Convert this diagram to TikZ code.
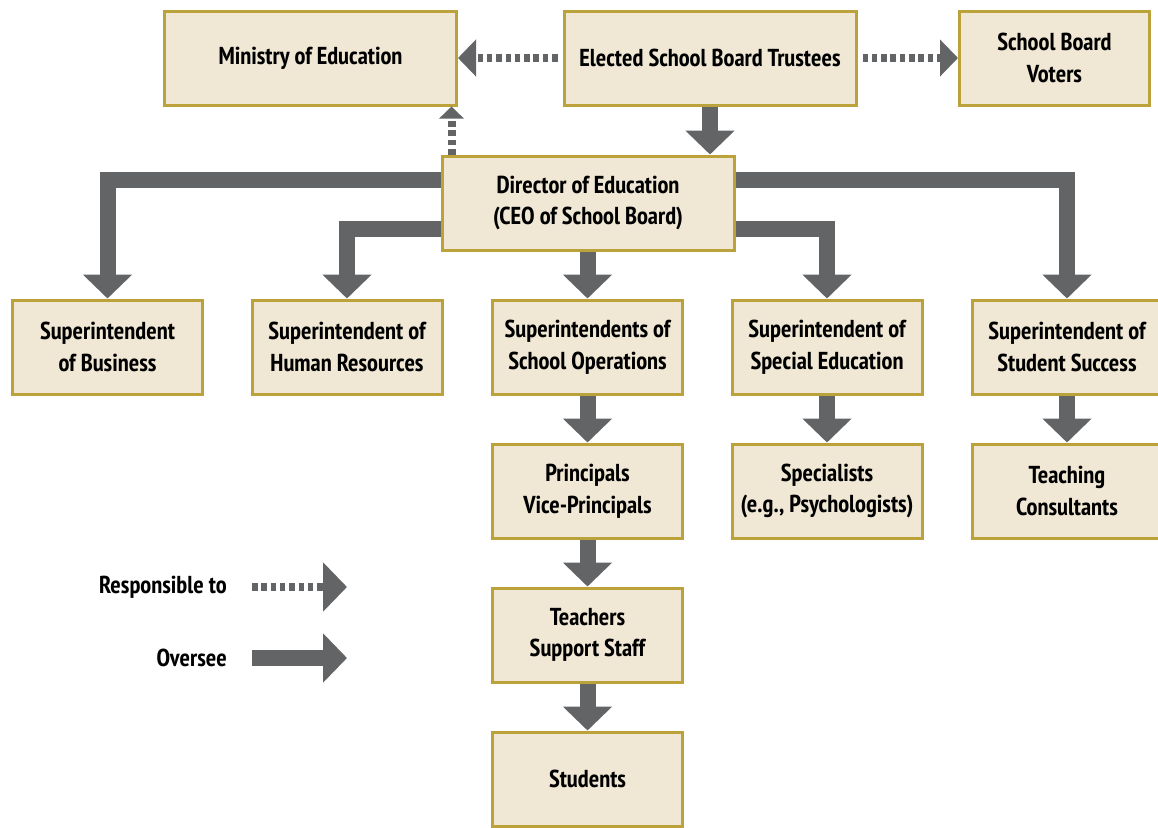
\documentclass[tikz,border=0pt]{standalone}
\usepackage{fontspec}
\setmainfont{PT Sans Narrow}
\usetikzlibrary{arrows.meta,calc}
\definecolor{boxfill}{HTML}{F0E8D5}
\definecolor{boxline}{HTML}{BCA23A}
\definecolor{arrowgray}{HTML}{636466}
\tikzset{
  orgbox/.style={draw=boxline, fill=boxfill, line width=3pt, minimum width=190pt, minimum height=94pt,
    align=center, font=\fontsize{24.5}{31.5}\selectfont\bfseries, inner sep=0pt},
  widebox/.style={orgbox, minimum width=292pt},
  oversee/.style={draw=arrowgray, line width=16pt, line join=miter,
    -{Triangle[width=48pt,length=24pt]}},
  resp/.style={draw=arrowgray, line width=8pt, dash pattern=on 5.5pt off 3.8pt,
    -{Triangle[width=36pt,length=18pt]}},
  legtext/.style={anchor=east, font=\fontsize{24.5}{31.5}\selectfont\bfseries, inner sep=0pt}
}
\begin{document}
\begin{tikzpicture}[x=1pt,y=-1pt]
\useasboundingbox[fill=white] (0,0) rectangle (1158,827);
% nodes
\node[widebox] (min) at (310.5,58) {Ministry of Education};
\node[widebox] (trus) at (710,58) {Elected School Board Trustees};
\node[orgbox] (vot) at (1054.5,58) {School Board\\Voters};
\node[widebox] (dir) at (588,203) {Director of Education\\(CEO of School Board)};
\node[orgbox] (bus) at (107.5,347) {Superintendent\\of Business};
\node[orgbox] (hr) at (347,347) {Superintendent of\\Human Resources};
\node[orgbox] (ops) at (587.5,347) {Superintendents of\\School Operations};
\node[orgbox] (sped) at (827,347) {Superintendent of\\Special Education};
\node[orgbox] (succ) at (1067,347) {Superintendent of\\Student Success};
\node[orgbox] (prin) at (587.5,491) {Principals\\Vice-Principals};
\node[orgbox] (spec) at (827,491) {Specialists\\(e.g., Psychologists)};
\node[orgbox] (cons) at (1067,491) {Teaching\\Consultants};
\node[orgbox] (teach) at (587.5,635) {Teachers\\Support Staff};
\node[orgbox] (stud) at (587.5,779) {Students};
% responsible-to arrows
\draw[resp, shorten <=5pt] (trus.west) -- (min.east);
\draw[resp, shorten <=5pt] (trus.east) -- (vot.west);
\draw[resp, line width=8pt, -{Triangle[width=24pt,length=12pt]}]
  ([xshift=11pt]dir.north west) -- ([xshift=11pt]dir.north west |- min.south);
% oversee arrows
\draw[oversee] (trus.south) -- (trus.south |- dir.north);
\draw[oversee] ([yshift=-25pt]dir.north west) -| (bus.north);
\draw[oversee] ([yshift=23pt]dir.south west) -| (hr.north);
\draw[oversee] ([yshift=-25pt]dir.north east) -| (succ.north);
\draw[oversee] ([yshift=23pt]dir.south east) -| (sped.north);
\draw[oversee] (dir.south -| ops.north) -- (ops.north);
\draw[oversee] (ops.south) -- (prin.north);
\draw[oversee] (prin.south) -- (teach.north);
\draw[oversee] (teach.south) -- (stud.north);
\draw[oversee] (sped.south) -- (spec.north);
\draw[oversee] (succ.south) -- (cons.north);
% legend
\node[legtext] (lresp) at (227,587) {Responsible to};
\node[legtext] (lover) at (227,658) {Oversee};
\coordinate (r1) at (252,587);
\coordinate (r2) at (347,587);
\coordinate (o1) at (252,658);
\coordinate (o2) at (347,658);
\draw[resp, -{Triangle[width=48pt,length=24pt]}] (r1) -- (r2);
\draw[oversee] (o1) -- (o2);
\end{tikzpicture}
\end{document}
